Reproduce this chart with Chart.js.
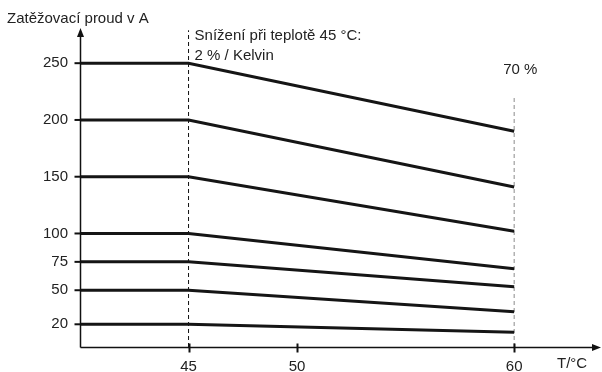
<!DOCTYPE html>
<html>
<head>
<meta charset="utf-8">
<script src="https://cdn.jsdelivr.net/npm/chart.js@4.4.1/dist/chart.umd.min.js"></script>
<style>
  html, body { margin: 0; padding: 0; background: #fff; }
  #wrap { width: 602px; height: 372px; }
</style>
</head>
<body>
<div id="wrap"><canvas id="myChart"></canvas></div>
<script>
// data
var startLoads = [250, 200, 150, 100, 75, 50, 20];   // A, below 45 °C
var endLoads = [190, 141, 102, 69, 53, 31, 13];      // A, at 60 °C
var tempPoints = [40, 45, 60];                       // °C
var yTicks = [20, 50, 75, 100, 150, 200, 250];
var xTicks = [45, 50, 60];
var markTemps = [45, 60];     // dashed marker lines
var markTops = [279, 221];    // where the dashed lines stop

var FONT = '"Liberation Sans", Arial, sans-serif';

var datasets = [];
for (var i = 0; i < startLoads.length; i++) {
    datasets.push({
        data: [
            { x: tempPoints[0], y: startLoads[i] },
            { x: tempPoints[1], y: startLoads[i] },
            { x: tempPoints[2], y: endLoads[i] }
        ],
        borderColor: '#151515',
        borderWidth: 3,
        pointRadius: 0,
        tension: 0,
        borderCapStyle: 'butt'
    });
}
// dashed markers at 45 and 60 °C
var markColors = ['#111', '#8a8a8a'];
for (var j = 0; j < markTemps.length; j++) {
    datasets.push({
        data: [{ x: markTemps[j], y: 0 }, { x: markTemps[j], y: markTops[j] }],
        borderColor: markColors[j],
        borderWidth: 1,
        borderDash: [4, 3],
        pointRadius: 0
    });
}

// axes with arrows, tick marks and the free texts
var axesPlugin = {
    id: 'axesPlugin',
    afterDraw: function (chart) {
        var ctx = chart.ctx;
        var a = chart.chartArea;
        var xs = chart.scales.x, ys = chart.scales.y;
        var x0 = Math.round(a.left) + 0.5;
        var y0 = Math.round(a.bottom) + 0.5;
        ctx.save();
        ctx.strokeStyle = '#111';
        ctx.fillStyle = '#111';
        ctx.lineWidth = 1.5;
        ctx.beginPath();
        ctx.moveTo(x0, y0);
        ctx.lineTo(x0, a.top + 6);
        ctx.moveTo(x0, y0);
        ctx.lineTo(a.right - 6, y0);
        ctx.stroke();
        // arrow heads
        ctx.beginPath();
        ctx.moveTo(x0, a.top);
        ctx.lineTo(x0 - 3.5, a.top + 9);
        ctx.lineTo(x0 + 3.5, a.top + 9);
        ctx.closePath();
        ctx.fill();
        ctx.beginPath();
        ctx.moveTo(a.right, y0);
        ctx.lineTo(a.right - 9, y0 - 3.5);
        ctx.lineTo(a.right - 9, y0 + 3.5);
        ctx.closePath();
        ctx.fill();
        // y tick marks
        ctx.lineWidth = 2;
        yTicks.forEach(function (v) {
            var py = ys.getPixelForValue(v);
            ctx.beginPath();
            ctx.moveTo(x0 - 6, py);
            ctx.lineTo(x0, py);
            ctx.stroke();
        });
        // x tick marks crossing the axis
        xTicks.forEach(function (v) {
            var px = Math.round(xs.getPixelForValue(v)) + 0.5;
            ctx.beginPath();
            ctx.moveTo(px, y0 - 4);
            ctx.lineTo(px, y0 + 5);
            ctx.stroke();
        });
        // texts
        ctx.fillStyle = '#222';
        ctx.font = '15px ' + FONT;
        ctx.textBaseline = 'alphabetic';
        ctx.textAlign = 'left';
        ctx.fillText('Zatěžovací proud v A', 7, 23);
        var p45 = xs.getPixelForValue(45);
        var p60 = xs.getPixelForValue(60);
        ctx.fillText('Snížení při teplotě 45 °C:', p45 + 6, 40);
        ctx.fillText('2 % / Kelvin', p45 + 6, 60);
        ctx.fillText('70 %', p60 - 11, 74);
        ctx.fillText('T/°C', 557, 368);
        ctx.restore();
    }
};

var config = {
    type: 'line',
    data: { datasets: datasets },
    options: {
        responsive: true,
        maintainAspectRatio: false,
        animation: false,
        layout: { padding: { top: 28, right: 1, left: 0, bottom: 0 } },
        plugins: {
            legend: { display: false },
            tooltip: { enabled: false }
        },
        scales: {
            x: {
                type: 'linear',
                min: 40,
                max: 64,
                grid: { display: false, drawTicks: false },
                border: { display: false },
                afterBuildTicks: function (s) {
                    s.ticks = xTicks.map(function (v) { return { value: v }; });
                },
                afterFit: function (s) { s.height = 25; },
                ticks: {
                    autoSkip: false,
                    maxRotation: 0,
                    padding: 11,
                    color: '#222',
                    font: { family: FONT, size: 15 }
                }
            },
            y: {
                min: 0,
                max: 281,
                grid: { display: false, drawTicks: false },
                border: { display: false },
                afterBuildTicks: function (s) {
                    s.ticks = yTicks.map(function (v) { return { value: v }; });
                },
                afterFit: function (s) { s.width = 80; },
                ticks: {
                    autoSkip: false,
                    padding: 12,
                    color: '#222',
                    font: { family: FONT, size: 15 }
                }
            }
        }
    },
    plugins: [axesPlugin]
};

var myChart = new Chart(document.getElementById('myChart'), config);
</script>
</body>
</html>
